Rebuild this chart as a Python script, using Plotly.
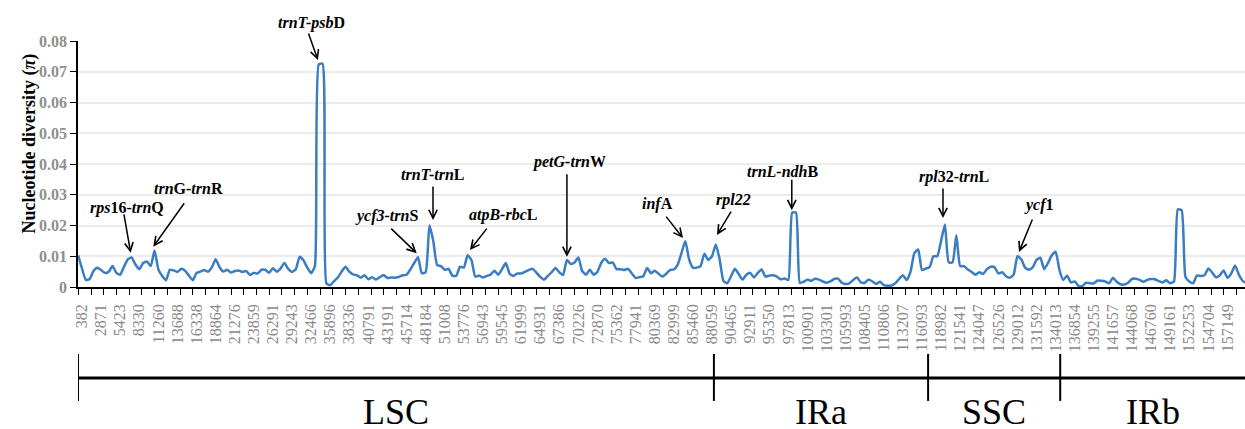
import plotly.graph_objects as go

# Nucleotide diversity (pi) per sliding window
pi_values = [
    0.0103, 0.0060, 0.0023, 0.0026, 0.0052, 0.0063, 0.0055, 0.0046, 0.0050, 0.0068,
    0.0046, 0.0040, 0.0066, 0.0090, 0.0096, 0.0073, 0.0058, 0.0078, 0.0083, 0.0068,
    0.0119, 0.0057, 0.0036, 0.0022, 0.0056, 0.0054, 0.0049, 0.0059, 0.0053, 0.0037,
    0.0022, 0.0046, 0.0050, 0.0055, 0.0050, 0.0064, 0.0090, 0.0065, 0.0050, 0.0056,
    0.0047, 0.0052, 0.0054, 0.0049, 0.0052, 0.0039, 0.0046, 0.0044, 0.0056, 0.0056,
    0.0046, 0.0061, 0.0050, 0.0060, 0.0078, 0.0059, 0.0049, 0.0058, 0.0098, 0.0087,
    0.0063, 0.0045, 0.0068, 0.0724, 0.0726, 0.0012, 0.0006, 0.0019, 0.0031, 0.0050,
    0.0066, 0.0050, 0.0041, 0.0038, 0.0030, 0.0038, 0.0025, 0.0032, 0.0024, 0.0032,
    0.0039, 0.0029, 0.0031, 0.0030, 0.0033, 0.0038, 0.0040, 0.0057, 0.0078, 0.0097,
    0.0045, 0.0048, 0.0200, 0.0150, 0.0072, 0.0068, 0.0056, 0.0059, 0.0037, 0.0036,
    0.0066, 0.0063, 0.0103, 0.0088, 0.0034, 0.0037, 0.0031, 0.0036, 0.0040, 0.0053,
    0.0040, 0.0058, 0.0078, 0.0043, 0.0036, 0.0044, 0.0044, 0.0049, 0.0055, 0.0059,
    0.0047, 0.0033, 0.0024, 0.0036, 0.0048, 0.0062, 0.0048, 0.0039, 0.0088, 0.0075,
    0.0080, 0.0096, 0.0052, 0.0040, 0.0056, 0.0040, 0.0050, 0.0079, 0.0092, 0.0078,
    0.0080, 0.0058, 0.0058, 0.0055, 0.0059, 0.0044, 0.0029, 0.0032, 0.0035, 0.0062,
    0.0045, 0.0053, 0.0043, 0.0034, 0.0043, 0.0055, 0.0057, 0.0072, 0.0110, 0.0150,
    0.0090, 0.0063, 0.0063, 0.0068, 0.0108, 0.0088, 0.0100, 0.0138, 0.0090, 0.0020,
    0.0012, 0.0035, 0.0059, 0.0042, 0.0024, 0.0040, 0.0046, 0.0031, 0.0046, 0.0057,
    0.0034, 0.0037, 0.0038, 0.0034, 0.0025, 0.0028, 0.0023, 0.0242, 0.0242, 0.0014,
    0.0017, 0.0024, 0.0020, 0.0027, 0.0024, 0.0018, 0.0014, 0.0018, 0.0026, 0.0027,
    0.0014, 0.0010, 0.0012, 0.0023, 0.0031, 0.0015, 0.0014, 0.0024, 0.0018, 0.0010,
    0.0017, 0.0006, 0.0004, 0.0005, 0.0012, 0.0026, 0.0038, 0.0023, 0.0050, 0.0110,
    0.0122, 0.0055, 0.0060, 0.0065, 0.0100, 0.0100, 0.0150, 0.0203, 0.0080, 0.0080,
    0.0168, 0.0068, 0.0068, 0.0057, 0.0049, 0.0040, 0.0048, 0.0042, 0.0058, 0.0066,
    0.0064, 0.0044, 0.0048, 0.0035, 0.0030, 0.0040, 0.0100, 0.0090, 0.0063, 0.0056,
    0.0064, 0.0088, 0.0095, 0.0058, 0.0078, 0.0103, 0.0115, 0.0055, 0.0023, 0.0037,
    0.0015, 0.0018, 0.0004, 0.0003, 0.0014, 0.0012, 0.0012, 0.0021, 0.0020, 0.0018,
    0.0012, 0.0030, 0.0017, 0.0009, 0.0008, 0.0014, 0.0026, 0.0027, 0.0023, 0.0017,
    0.0023, 0.0026, 0.0025, 0.0019, 0.0015, 0.0022, 0.0012, 0.0018, 0.0252, 0.0250,
    0.0033, 0.0018, 0.0012, 0.0037, 0.0036, 0.0038, 0.0060, 0.0047, 0.0031, 0.0038,
    0.0054, 0.0030, 0.0044, 0.0070, 0.0040, 0.0020, 0.0012,
]

# Window midpoint labels (shown every 5 windows, starting at window 1)
window_labels = [
    "382", "2871", "5423", "8330", "11260", "13688", "16338", "18864", "21276", "23859",
    "26291", "29243", "32466", "35896", "38336", "40791", "43191", "45714", "48184", "51008",
    "53776", "56943", "59545", "61999", "64931", "67386", "70226", "72870", "75362", "77941",
    "80369", "82999", "85460", "88059", "90465", "92911", "95350", "97813", "100901", "103301",
    "105993", "108405", "110806", "113207", "116093", "118982", "121541", "124047", "126526", "129012",
    "131592", "134013", "136854", "139255", "141657", "144068", "146760", "149161", "152253", "154704",
    "157149", "159590",
]
label_first = 1
label_step = 5

y_ticks = [0, 0.01, 0.02, 0.03, 0.04, 0.05, 0.06, 0.07, 0.08]
y_ticktext = ["0", "0.01", "0.02", "0.03", "0.04", "0.05", "0.06", "0.07", "0.08"]

# Genome regions (window-index boundaries)
regions = ["LSC", "IRa", "SSC", "IRb"]
region_edges = [-0.05, 166.5, 222.6, 257.2, 305.6]

# Hotspot labels: text, arrow tip (window, pi), tail offset px, text offset px
hotspots = [
    ("<b><i>trnT-psb</i>D</b>", 62.8, 0.0738, -10, -28, -6, -37),
    ("<b><i>rps</i>16-<i>trn</i>Q</b>", 13.75, 0.0111, -7, -40, -4, -45),
    ("<b><i>trn</i>G-<i>trn</i>R</b>", 19.67, 0.0131, 32, -45, 35, -58),
    ("<b><i>ycf3-trn</i>S</b>", 88.66, 0.0110, -27, -26, -30, -37),
    ("<b><i>trnT-trn</i>L</b>", 92.93, 0.0218, 0, -35, -1, -45),
    ("<b><i>atpB-rbc</i>L</b>", 102.6, 0.0120, 18, -23, 33, -35),
    ("<b><i>petG-trn</i>W</b>", 128.0, 0.0098, 0, -84, 2, -95),
    ("<b><i>inf</i>A</b>", 158.4, 0.0159, -18, -23, -25, -34),
    ("<b><i>rpl22</i></b>", 167.3, 0.0169, 15, -25, 17, -35),
    ("<b><i>trnL-ndh</i>B</b>", 186.9, 0.0250, 0, -32, -9, -39),
    ("<b><i>rpl</i>32-<i>trn</i>L</b>", 226.5, 0.0224, 0, -31, 11, -41),
    ("<b><i>ycf</i>1</b>", 246.4, 0.0114, 14, -34, 20, -47),
]

FONT = "Liberation Serif, Times New Roman, serif"
x = list(range(len(pi_values)))

fig = go.Figure(
    go.Scatter(
        x=x, y=pi_values, mode="lines",
        line=dict(color="#3A7DC2", width=2.5, shape="spline", smoothing=0.5),
        hoverinfo="skip",
    )
)

fig.update_layout(
    width=1245, height=429,
    margin=dict(l=78, r=0, t=41, b=142, pad=0),
    paper_bgcolor="white", plot_bgcolor="white",
    showlegend=False,
    font=dict(family=FONT),
)

fig.update_xaxes(
    range=[region_edges[0], region_edges[-1]],
    tickmode="array",
    tickvals=x[label_first::label_step][:len(window_labels)],
    ticktext=window_labels,
    tickangle=-90,
    ticks="outside", ticklen=9, tickcolor="rgba(0,0,0,0)",
    tickfont=dict(family=FONT, size=16, color="#8a8a8a"),
    showline=True, linecolor="black", linewidth=1.5,
    showgrid=False, zeroline=False,
    minor=dict(ticks="outside", ticklen=6, tickwidth=1.3, tickcolor="black",
               tick0=0.03, dtick=10 / 3, showgrid=False),
)

fig.update_yaxes(
    range=[0, 0.08],
    tickmode="array", tickvals=y_ticks, ticktext=y_ticktext,
    ticks="outside", ticklen=6, tickwidth=1.3, tickcolor="black",
    showline=True, linecolor="black", linewidth=1.5,
    showgrid=True, gridcolor="#ebebeb", gridwidth=1.5,
    zeroline=False,
    tickfont=dict(family=FONT, size=16, color="#8f8f8f", weight="bold"),
)

# Y title
fig.add_annotation(
    text="<b>Nucleotide diversity (<i>π</i>)</b>",
    xref="paper", yref="paper", x=-0.0523, y=0.585,
    textangle=-90, showarrow=False,
    font=dict(family=FONT, size=18, color="black"),
)

# Hotspot arrows and labels
for label, tx, ty, adx, ady, tdx, tdy in hotspots:
    fig.add_annotation(
        x=tx, y=ty, xref="x", yref="y", text="",
        showarrow=True, ax=adx, ay=ady,
        arrowhead=5, arrowsize=1.1, arrowwidth=1.5, arrowcolor="black", standoff=0,
    )
    fig.add_annotation(
        x=tx, y=ty, xref="x", yref="y", text=label,
        showarrow=False, xshift=tdx, yshift=-tdy,
        font=dict(family=FONT, size=16, color="black"),
    )

# Region bar
fig.add_shape(type="line", xref="x", yref="paper",
              x0=region_edges[0], x1=region_edges[-1], y0=-0.37, y1=-0.37,
              line=dict(color="black", width=3))
for e in region_edges[:-1]:
    fig.add_shape(type="line", xref="x", yref="paper",
                  x0=e, x1=e, y0=-0.272, y1=-0.463,
                  line=dict(color="black", width=2))
for name, a, b in zip(regions, region_edges[:-1], region_edges[1:]):
    fig.add_annotation(
        text=name, xref="x", yref="paper", x=(a + b) / 2, y=-0.512,
        yanchor="top", yshift=22, borderpad=0,
        showarrow=False, font=dict(family=FONT, size=36, color="black"),
    )

fig.write_html("out.html")
